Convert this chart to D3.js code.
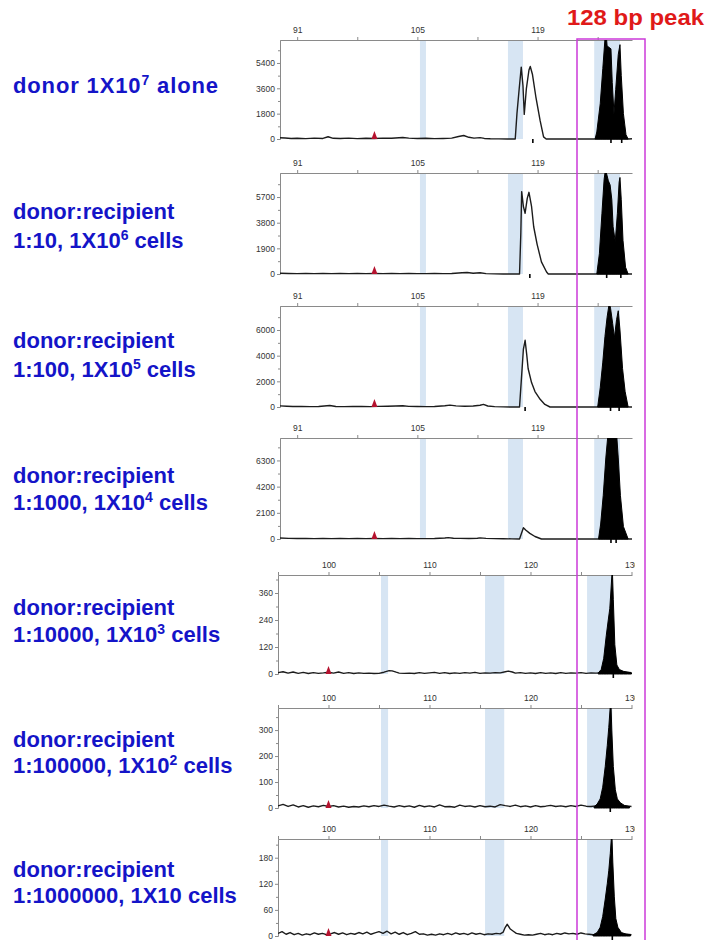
<!DOCTYPE html>
<html>
<head>
<meta charset="utf-8">
<script src="https://cdn.jsdelivr.net/npm/d3@7"></script>
<style>
  html, body { margin: 0; padding: 0; background: #fff; }
  svg { display: block; }
  .lab { font-family: "Liberation Sans", Arial, sans-serif; font-weight: bold; fill: #1414c8; }
  .axis text { font-family: "Liberation Sans", Arial, sans-serif; font-size: 8.5px; fill: #333; }
  .axis path, .axis line { stroke: #8a8a8a; stroke-width: 1; }
</style>
</head>
<body>
<svg id="chart" width="707" height="940"></svg>
<script>
// ---- Sample titles (line text, optional superscript) ----
const sampleLabels = [
  [["donor 1X10", "7", " alone"]],
  [["donor:recipient"], ["1:10, 1X10", "6", " cells"]],
  [["donor:recipient"], ["1:100, 1X10", "5", " cells"]],
  [["donor:recipient"], ["1:1000, 1X10", "4", " cells"]],
  [["donor:recipient"], ["1:10000, 1X10", "3", " cells"]],
  [["donor:recipient"], ["1:100000, 1X10", "2", " cells"]],
  [["donor:recipient"], ["1:1000000, 1X10 cells"]]
];

// ---- Size axes (bp) ----
const sizeDomainA = [89, 130];
const sizeDomainB = [95, 130.05];
const sizeTicksA = [91, 98, 105, 112, 119, 126];
const sizeLabelsA = [91, 105, 119];
const sizeTicksB = [95, 100, 105, 110, 115, 120, 125, 130];
const sizeLabelsB = [100, 110, 120, 130];

// ---- Intensity axes (RFU) ----
const yMax = [7030, 7480, 7870, 8100, 440, 385, 223];
const yTicks = [
  [0, 1800, 3600, 5400],
  [0, 1900, 3800, 5700],
  [0, 2000, 4000, 6000],
  [0, 2100, 4200, 6300],
  [0, 120, 240, 360],
  [0, 100, 200, 300],
  [0, 60, 120, 180]
];

// ---- Bin windows (bp) ----
const binsA = [[105.3, 106.0], [115.55, 117.3], [125.6, 128.6]];
const binsB = [[105.2, 105.9], [115.5, 117.4], [125.6, 128.1]];

// ---- Size-standard marker (bp) ----
const markerBp = 100;

// ---- Recipient / background traces [bp, RFU] ----
const traceP1 = [[89.0,90],[89.6,70],[90.3,40],[91.0,50],[92.0,30],[93.0,60],[94.0,40],[94.6,160],[95.2,50],[96.0,40],[97.0,60],[98.0,30],[99.0,50],[100.0,40],[101.0,60],[102.0,50],[103.3,110],[104.0,60],[105.0,40],[106.0,50],[107.0,30],[108.0,40],[109.0,60],[109.8,180],[110.4,250],[111.0,120],[111.6,60],[112.3,100],[112.8,40],[113.5,20],[114.5,10],[115.5,0],[116.4,0],[116.6,1800],[116.85,3500],[117.1,5100],[117.3,3800],[117.45,1750],[117.7,3600],[118.0,4900],[118.15,5150],[118.4,4600],[118.8,3000],[119.3,1300],[119.7,150],[120.0,0],[125.7,0],[129.6,0],[130.0,20]];
const traceP2 = [[89.0,60],[90,40],[91,30],[92,40],[93,30],[94,50],[95,30],[96,40],[97,30],[98,40],[99,30],[100,40],[101,30],[102,40],[103,30],[104,50],[105,30],[106,30],[107,40],[108,30],[109,40],[110.2,90],[110.8,110],[111.5,60],[112.3,90],[113,30],[114,10],[115,0],[116.9,0],[117.05,3000],[117.15,6100],[117.35,5000],[117.55,4500],[117.8,5600],[118.0,6050],[118.3,5000],[118.55,3500],[118.95,2200],[119.45,900],[120.05,150],[120.25,0],[130,0]];
const traceP3 = [[89.0,90],[89.8,60],[90.5,40],[91.5,50],[92.5,30],[93.5,40],[94.8,120],[95.5,40],[96.5,30],[97.5,50],[98.5,40],[99.5,30],[100.5,50],[101.5,60],[102.5,80],[103.3,100],[104,50],[105,40],[106,30],[107,40],[108.2,100],[108.8,150],[109.5,90],[110.5,60],[111.5,80],[112.3,140],[112.7,200],[113.2,80],[114,30],[115,10],[116,0],[116.9,0],[117.15,2500],[117.35,4500],[117.55,5200],[117.75,4000],[117.9,3000],[118.3,1900],[118.7,1200],[119.3,600],[119.85,200],[120.45,0],[130,0]];
const traceP4 = [[89.0,80],[90,50],[91,40],[92,50],[93,30],[94,40],[95,30],[96,40],[97,30],[98,40],[99,30],[100,40],[101,30],[102,40],[103,30],[104,40],[105,30],[106,30],[107,40],[108.2,80],[108.6,110],[109.2,60],[110,50],[111,40],[112,60],[112.3,90],[113,50],[114,30],[115,20],[116,10],[116.9,0],[117.15,500],[117.35,900],[117.65,700],[118.1,450],[118.7,200],[119.45,0],[130,0]];
const traceP5 = [[95.0,6],[95.5,10],[96.0,4],[96.5,9],[97.0,3],[97.5,7],[98.0,2],[98.5,6],[99.0,3],[99.5,5],[100.0,8],[100.5,4],[101.0,9],[101.5,3],[102.0,6],[102.5,2],[103.0,5],[103.5,3],[104.0,4],[104.5,2],[105.0,3],[105.5,8],[106.0,15],[106.3,14],[106.7,8],[107.0,4],[107.5,3],[108.0,4],[108.5,2],[109.0,6],[109.5,3],[110.0,5],[110.5,7],[111.0,3],[111.5,6],[112.0,2],[112.5,5],[113.0,3],[113.5,6],[114.0,4],[114.5,7],[115.0,3],[115.5,5],[116.0,4],[116.5,6],[117.0,5],[117.5,10],[117.8,13],[118.2,9],[118.5,4],[119.0,6],[119.5,3],[120.0,5],[120.5,2],[121.0,6],[121.5,3],[122.0,5],[122.5,2],[123.0,6],[123.5,3],[124.0,5],[124.5,4],[125.0,6],[125.5,3],[126.0,5],[126.5,4],[127.0,6],[129.5,8],[130.0,6]];
const traceP6 = [[95.0,8],[95.5,14],[96.0,6],[96.5,12],[97.0,4],[97.5,9],[98.0,3],[98.5,8],[99.0,5],[99.5,10],[100.0,6],[100.5,9],[101.0,4],[101.5,7],[102.0,3],[102.5,6],[103.0,4],[103.5,8],[104.0,5],[104.5,9],[105.0,6],[105.5,11],[106.0,7],[106.5,4],[107.0,9],[107.5,5],[108.0,8],[108.5,3],[109.0,10],[109.5,5],[110.0,8],[110.5,4],[111.0,12],[111.5,5],[112.0,6],[112.5,3],[113.0,11],[113.5,6],[114.0,8],[114.5,4],[115.0,9],[115.5,5],[116.0,7],[116.5,4],[117.0,13],[117.5,9],[118.0,6],[118.5,11],[119.0,5],[119.5,8],[120.0,4],[120.5,9],[121.0,5],[121.5,7],[122.0,10],[122.5,6],[123.0,8],[123.5,5],[124.0,9],[124.5,6],[125.0,11],[125.5,7],[126.0,6],[126.5,8],[127.0,10],[129.5,8],[130.0,6]];
const traceP7 = [[95.0,6],[95.4,10],[95.8,4],[96.2,8],[96.6,3],[97.0,6],[97.4,2],[97.8,5],[98.2,3],[98.6,7],[99.0,4],[99.4,6],[99.8,3],[100.2,5],[100.6,8],[101.0,4],[101.4,7],[101.8,3],[102.2,6],[102.6,4],[103.0,8],[103.4,5],[103.8,9],[104.2,4],[104.6,7],[105.0,10],[105.4,6],[105.8,11],[106.2,5],[106.6,9],[107.0,4],[107.4,8],[107.8,3],[108.2,6],[108.6,10],[109.0,4],[109.4,5],[109.8,2],[110.2,4],[110.6,2],[111.0,5],[111.4,3],[111.8,6],[112.2,3],[112.6,7],[113.0,4],[113.4,6],[113.8,3],[114.2,7],[114.6,4],[115.0,6],[115.4,3],[115.8,5],[116.2,4],[116.6,6],[117.0,5],[117.3,9],[117.5,20],[117.7,27],[118.0,16],[118.3,11],[118.6,6],[119.0,4],[119.4,2],[119.8,3],[120.2,2],[120.6,4],[121.0,6],[121.4,3],[121.8,5],[122.2,3],[122.6,6],[123.0,4],[123.4,7],[123.8,5],[124.2,6],[124.6,4],[125.0,7],[125.4,5],[125.8,4],[126.2,3],[129.5,4],[130.0,3]];

// ---- Donor 128 bp peak [bp, RFU] ----
const peakP1 = [[125.7,0],[125.9,500],[126.3,2500],[126.6,5000],[126.85,7100],[127.0,7400],[127.1,6600],[127.35,6500],[127.55,6400],[127.7,4000],[127.9,1800],[128.1,3500],[128.4,6000],[128.6,6700],[128.75,4500],[129.0,1800],[129.3,300],[129.55,0]];
const peakP2 = [[125.9,0],[126.2,1500],[126.5,4500],[126.75,7000],[126.9,7700],[127.05,7400],[127.25,6900],[127.45,6600],[127.65,5500],[127.8,3500],[128.05,2400],[128.3,4500],[128.5,6800],[128.6,7150],[128.75,5500],[128.95,2500],[129.25,500],[129.55,0]];
const peakP3 = [[126.0,0],[126.3,1500],[126.6,3500],[126.85,5500],[127.1,7000],[127.35,8100],[127.5,7700],[127.75,6500],[127.95,5400],[128.2,6800],[128.4,7500],[128.6,6000],[128.9,3000],[129.2,1200],[129.55,0]];
const peakP4 = [[126.1,0],[126.35,1200],[126.65,3500],[126.95,6500],[127.2,8400],[127.45,8900],[127.6,9100],[127.75,8000],[127.9,8900],[128.05,9100],[128.2,8500],[128.4,6500],[128.65,3500],[129.0,1000],[129.55,0]];
const peakP5 = [[126.7,4],[127.0,20],[127.25,70],[127.5,170],[127.7,240],[127.85,290],[127.95,360],[128.1,470],[128.2,330],[128.35,130],[128.55,40],[128.8,20],[129.2,12],[129.6,8],[130.0,5]];
const peakP6 = [[126.3,5],[126.6,15],[126.9,35],[127.15,80],[127.4,160],[127.6,240],[127.75,310],[127.95,420],[128.05,300],[128.2,160],[128.4,70],[128.6,35],[128.9,20],[129.3,10],[129.8,5]];
const peakP7 = [[126.2,3],[126.6,8],[126.9,20],[127.15,45],[127.4,85],[127.6,120],[127.75,150],[127.9,190],[128.05,240],[128.15,170],[128.3,90],[128.45,40],[128.65,20],[129.0,8],[129.5,4],[129.9,3]];

// ---- Called-peak positions (bp) ----
const calls = [
  [118.45, 127.55, 128.8],
  [118.1, 127.05, 128.7],
  [117.55, 127.5, 128.5],
  [127.55, 128.15],
  [128.2],
  [127.9],
  [128.1]
];

const traces = [traceP1, traceP2, traceP3, traceP4, traceP5, traceP6, traceP7];
const peaks = [peakP1, peakP2, peakP3, peakP4, peakP5, peakP6, peakP7];

// ---- Page layout ----
const frames = [
  { top: 40,  base: 139, x0: 280, x1: 632, lines: [93], widths: [205] },
  { top: 173, base: 274, x0: 280, x1: 632, lines: [219, 248] },
  { top: 306, base: 407, x0: 280, x1: 632, lines: [348, 377] },
  { top: 438, base: 539, x0: 280, x1: 632, lines: [483, 510] },
  { top: 575, base: 674, x0: 278, x1: 632, lines: [615, 642] },
  { top: 708, base: 808, x0: 278, x1: 632, lines: [747, 773] },
  { top: 839, base: 936, x0: 278, x1: 632, lines: [877, 903] }
];

const svg = d3.select("#chart");
const defs = svg.append("defs");
const rfu = d3.format("d");

frames.forEach((f, i) => {
  const small = i >= 4;
  const x = d3.scaleLinear().domain(small ? sizeDomainB : sizeDomainA).range([f.x0, f.x1]);
  const y = d3.scaleLinear().domain([0, yMax[i]]).range([f.base, f.top]);
  const g = svg.append("g");

  defs.append("clipPath").attr("id", "plot" + i)
    .append("rect").attr("x", f.x0).attr("y", f.top)
    .attr("width", f.x1 - f.x0 + 2).attr("height", f.base - f.top + 2);
  // size labels are cut at the right edge of the trace window
  defs.append("clipPath").attr("id", "lab" + i)
    .append("rect").attr("x", 0).attr("y", -40).attr("width", 635).attr("height", 80);

  // bin windows
  g.append("g").selectAll("rect")
    .data(small ? binsB : binsA).join("rect")
    .attr("x", d => x(d[0])).attr("width", d => x(d[1]) - x(d[0]))
    .attr("y", f.top).attr("height", f.base - f.top)
    .attr("fill", "#d7e5f3");

  // size axis on top
  const ticks = small ? sizeTicksB : sizeTicksA;
  const labels = small ? sizeLabelsB : sizeLabelsA;
  g.append("g").attr("class", "axis")
    .attr("transform", `translate(0,${f.top})`)
    .attr("clip-path", `url(#lab${i})`)
    .call(d3.axisTop(x).tickValues(ticks).tickSize(3).tickSizeOuter(0).tickPadding(4)
      .tickFormat(d => labels.includes(d) ? d : ""));

  // intensity axis on left: minor then major
  const yt = yTicks[i];
  const step = yt[1] - yt[0];
  const minor = yt.map(v => v + step / 2).filter(v => v < yMax[i]);
  g.append("g").attr("class", "axis")
    .attr("transform", `translate(${f.x0},0)`)
    .call(d3.axisLeft(y).tickValues(minor).tickSize(2).tickSizeOuter(0).tickFormat(""));
  g.append("g").attr("class", "axis")
    .attr("transform", `translate(${f.x0},0)`)
    .call(d3.axisLeft(y).tickValues(yt).tickSize(3).tickSizeOuter(0).tickPadding(2).tickFormat(rfu));

  const plot = g.append("g").attr("clip-path", `url(#plot${i})`);

  // trace
  plot.append("path").datum(traces[i])
    .attr("fill", "none").attr("stroke", "#1c1c1c").attr("stroke-width", 1.4)
    .attr("stroke-linejoin", "round")
    .attr("d", d3.line().x(d => x(d[0])).y(d => y(d[1])));

  // donor peak, filled
  plot.append("path").datum(peaks[i])
    .attr("fill", "#000").attr("stroke", "#000").attr("stroke-width", 1)
    .attr("d", d3.area().x(d => x(d[0])).y0(f.base).y1(d => y(d[1])));

  // size-standard marker
  const mx = x(markerBp);
  g.append("path")
    .attr("d", `M${mx - 3},${f.base} L${mx + 3},${f.base} L${mx},${f.base - 8} Z`)
    .attr("fill", "#b5122e");

  // called-peak ticks
  g.append("g").selectAll("line").data(calls[i]).join("line")
    .attr("x1", d => x(d)).attr("x2", d => x(d))
    .attr("y1", f.base).attr("y2", f.base + 4)
    .attr("stroke", "#000").attr("stroke-width", 1.6);

  // sample title
  const t = svg.append("g");
  sampleLabels[i].forEach((ln, k) => {
    const text = t.append("text").attr("class", "lab")
      .attr("x", 13).attr("y", f.lines[k]).attr("font-size", 22);
    if (f.widths && f.widths[k]) text.attr("textLength", f.widths[k]).attr("lengthAdjust", "spacing");
    text.append("tspan").text(ln[0]);
    if (ln.length > 1) {
      text.append("tspan").attr("font-size", 14).attr("dy", -8).text(ln[1]);
      text.append("tspan").attr("dy", 8).text(ln[2]);
    }
  });
});

// 128 bp window and its heading
svg.append("rect")
  .attr("x", 577).attr("y", 39).attr("width", 68).attr("height", 910)
  .attr("fill", "none").attr("stroke", "#cc3ad9").attr("stroke-width", 1.5);
svg.append("text")
  .attr("x", 567).attr("y", 25)
  .attr("font-family", "Liberation Sans, Arial, sans-serif")
  .attr("font-weight", "bold").attr("font-size", 22)
  .attr("textLength", 137).attr("lengthAdjust", "spacingAndGlyphs")
  .attr("fill", "#e01919")
  .text("128 bp peak");
</script>
</body>
</html>
